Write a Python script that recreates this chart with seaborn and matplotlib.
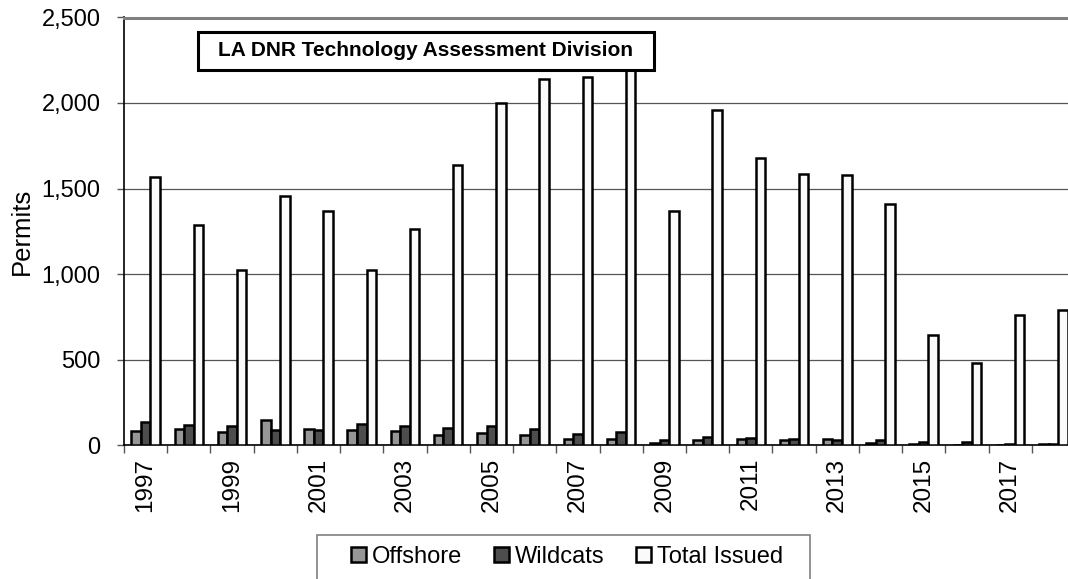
import numpy as np
import pandas as pd
import matplotlib
matplotlib.use("Agg")
import matplotlib.pyplot as plt
import seaborn as sns
from matplotlib.patches import Rectangle
from matplotlib.ticker import FuncFormatter, FixedLocator

# =========================
# Dados
# =========================
years = list(range(1997, 2019))
offshore = [84, 94, 78, 149, 94, 88, 82, 57, 72, 61, 33, 37, 12, 31, 37, 27, 37, 12, 5, 1, 2, 3]
wildcats = [137, 116, 110, 88, 86, 122, 112, 98, 113, 96, 67, 78, 31, 45, 39, 37, 29, 29, 20, 15, 6, 6]
total = [1566, 1288, 1021, 1456, 1368, 1025, 1265, 1637, 2000, 2138, 2152, 2250,
         1368, 1960, 1676, 1584, 1578, 1412, 643, 478, 760, 788]

series_names = ["Offshore", "Wildcats", "Total Issued"]
series_colors = ["#969696", "#4d4d4d", "#fafafa"]

df = pd.DataFrame({
    "year": [str(y) for y in years] * 3,
    "permits": offshore + wildcats + total,
    "series": [s for s in series_names for _ in years],
})

sns.set_style("white")
plt.rcParams["font.family"] = ["Liberation Sans", "DejaVu Sans"]
for k in ["text.color", "axes.labelcolor", "xtick.labelcolor", "ytick.labelcolor"]:
    plt.rcParams[k] = "black"

W, H = 1068, 579
fig = plt.figure(figsize=(W / 100, H / 100), dpi=100)
ax = fig.add_axes([124 / W, 1 - 445 / H, 951 / W, (445 - 17.5) / H])

sns.barplot(data=df, x="year", y="permits", hue="series", palette=series_colors,
            hue_order=series_names, width=0.66, gap=0, edgecolor="black",
            linewidth=1.8, ax=ax, legend=True, zorder=3)

ax.set_ylim(0, 2500)
ax.set_xlim(-0.5, len(years) - 0.5)
ax.set_yticks(np.arange(0, 2501, 500))
ax.yaxis.set_major_formatter(FuncFormatter(lambda v, p: f"{int(v):,}"))
ax.grid(axis="y", color="#555555", linewidth=0.9, zorder=0)
ax.set_axisbelow(True)

# rótulos a cada dois anos, marcas nos limites dos grupos
ax.set_xticks(range(0, len(years), 2))
ax.set_xticklabels([str(y) for y in years[::2]], rotation=90, fontsize=17.5)
ax.xaxis.set_minor_locator(FixedLocator(np.arange(-0.5, len(years), 1)))
ax.tick_params(axis="x", which="major", length=0, pad=9)
ax.tick_params(axis="x", which="minor", length=6, width=1, color="#555555", bottom=True)
ax.tick_params(axis="y", length=5, width=1, color="#555555", left=True, labelsize=17, pad=12)

ax.set_xlabel("")
ax.set_ylabel("Permits", fontsize=18.5)
ax.yaxis.set_label_coords(-90 / 951, 0.5)

for side in ["left", "bottom"]:
    ax.spines[side].set_color("black")
    ax.spines[side].set_linewidth(1.2)
ax.spines["top"].set_color("#808080")
ax.spines["top"].set_linewidth(2.2)
ax.spines["right"].set_visible(False)

# legenda (caixa desenhada à parte)
handles, labels = ax.get_legend_handles_labels()
ax.legend_.remove()
leg = fig.legend(handles, labels, loc="center", bbox_to_anchor=(567 / W, 1 - 557 / H),
                 ncol=3, frameon=False, fontsize=17,
                 handlelength=0.62, handleheight=0.62, handletextpad=0.25, columnspacing=1.35,
                 borderpad=0, borderaxespad=0)
fig.add_artist(Rectangle((317 / W, 1 - 595 / H), (810 - 317) / W, 60 / H,
                         transform=fig.transFigure, facecolor="white",
                         edgecolor="#808080", linewidth=1.2, zorder=4))
leg.set_zorder(5)

# caixa de crédito
fig.add_artist(Rectangle((198 / W, 1 - 70 / H), (654 - 198) / W, 38 / H,
                         transform=fig.transFigure, facecolor="white",
                         edgecolor="black", linewidth=2.2, zorder=9))
fig.text(426 / W, 1 - 51 / H, "LA DNR Technology Assessment Division",
         ha="center", va="center", fontsize=15, fontweight="bold", zorder=10)

fig.savefig("out.png", dpi=100)
